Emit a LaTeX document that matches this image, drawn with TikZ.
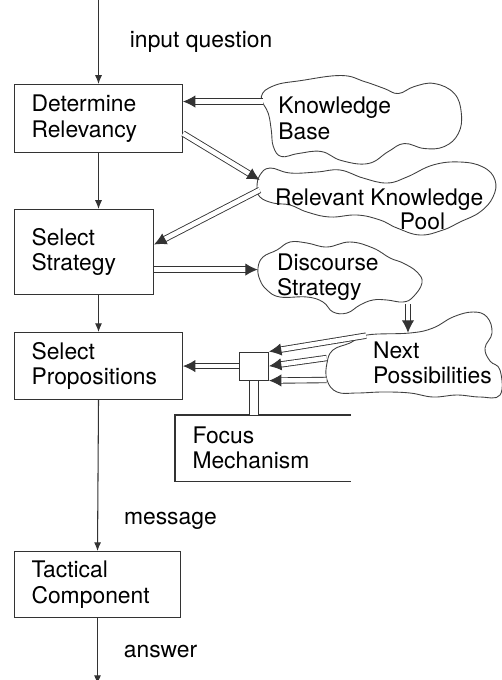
\documentclass[tikz,border=0pt]{standalone}
\usepackage{fontspec}
\setmainfont{TeX Gyre Heros}
\usetikzlibrary{positioning,arrows.meta,shapes.geometric}

\begin{document}
\begin{tikzpicture}[x=0.02cm,y=-0.02cm,
        font=\fontsize{13}{14.5}\selectfont,
        proc/.style={draw=black!80,line width=0.6pt,anchor=north west,align=left,inner xsep=0.34cm,inner ysep=0pt},
        wolke/.style={ellipse,inner sep=0pt},
        rand/.style={draw=black!75,line width=0.5pt},
        wtext/.style={align=left,inner sep=0pt},
        flow/.style={draw=black!80,line width=0.6pt,-{Latex[length=5pt,width=4pt]}},
        dbl/.style={draw=black!80,line width=0.5pt,double,double distance=2.6pt,-{Latex[length=7pt,width=7pt]}}]
        \useasboundingbox (0,0) rectangle (502,680);
        % main chain
        \node[proc, text width=2.68cm, minimum height=1.36cm] (rel) at (14,84) {Determine\\Relevancy};
        \node[proc, text width=2.10cm, minimum height=1.70cm, below=1.12cm of rel.south west, anchor=north west] (strat) {Select\\Strategy};
        \node[proc, text width=2.68cm, minimum height=1.34cm, below=0.74cm of strat.south west, anchor=north west] (props) {Select\\Propositions};
        \node[proc, text width=2.64cm, minimum height=1.32cm, below=3.02cm of props.south west, anchor=north west] (tact) {Tactical\\Component};
        \node[draw=black!80, line width=0.6pt, minimum width=0.58cm, minimum height=0.56cm, inner sep=0pt, right=1.12cm of props] (sel) {};
        \node[proc, draw=none, text width=2.82cm, minimum height=1.3cm] (focus) at (175,415) {Focus\\Mechanism};
        \draw[draw=black!80, line width=0.6pt] (focus.north east) -- (focus.north west) -- (focus.south west) -- (focus.south east);
        % clouds
        \node[wolke, minimum width=4cm, minimum height=1.6cm, right=1.6cm of rel] (kb) {};
        \node[wolke, minimum width=4.68cm, minimum height=1.2cm] (pool) at (377,198) {};
        \node[wolke, minimum width=3.16cm, minimum height=1.4cm] (disc) at (337,277) {};
        \node[wolke, minimum width=3.52cm, minimum height=1.28cm] (next) at (415,363) {};
        \draw[rand, shift={(kb.center)}] plot[smooth cycle, tension=0.7] coordinates {(-102,-22) (-89,-33) (-62,-38) (-22,-43) (1,-37) (21,-30) (35,-25) (51,-32) (71,-35) (91,-25) (98,-5) (95,15) (81,28) (61,30) (41,25) (25,33) (5,45) (-22,42) (-42,33) (-65,35) (-82,38) (-90,28) (-92,12) (-95,-5)};
        \draw[rand, shift={(pool.center)}] plot[smooth cycle, tension=0.7] coordinates {(-117,-23) (-107,-30) (-87,-25) (-60,-26) (-37,-28) (-14,-20) (10,-15) (30,-21) (56,-33) (83,-36) (106,-31) (118,-18) (116,-1) (103,14) (83,24) (66,32) (43,37) (20,30) (3,22) (-20,17) (-47,19) (-70,14) (-87,7) (-104,5) (-117,-1) (-120,-11)};
        \draw[rand, shift={(disc.center)}] plot[smooth cycle, tension=0.7] coordinates {(-79,-9) (-74,-20) (-60,-27) (-47,-35) (-30,-34) (-10,-30) (13,-35) (36,-29) (53,-19) (66,-14) (80,-5) (85,6) (76,20) (66,25) (50,23) (36,23) (23,28) (10,36) (-4,35) (-14,25) (-30,20) (-57,20) (-70,13) (-77,3)};
        \draw[rand, shift={(next.center)}] plot[smooth cycle, tension=0.7] coordinates {(-48,-28) (-5,-30) (18,-35) (38,-46) (58,-51) (72,-46) (77,-30) (70,-15) (75,-2) (85,7) (85,32) (65,34) (42,32) (18,34) (-5,30) (-32,29) (-58,30) (-78,29) (-88,17) (-88,0) (-82,-13) (-65,-20)};
        \node[wtext, right=0.3cm of kb.west] (kbtext) {Knowledge\\Base};
        \node[wtext, right=0.3cm of pool.west, yshift=-0.22cm] (pooltext) {Relevant Knowledge\\[-1pt]\hspace*{2.5cm}Pool};
        \node[wtext, right=0.38cm of disc.west] (disctext) {Discourse\\Strategy};
        \node[wtext, right=0.92cm of next.west] (nexttext) {Next\\Possibilities};
        % single arrows
        \coordinate (start) at ([yshift=1.68cm]rel.north);
        \coordinate (end) at ([yshift=-1.32cm]tact.south);
        \draw[flow] (start) -- node[right=0.5cm] {input question} (rel.north);
        \draw[flow] (rel.south) -- (rel.south |- strat.north);
        \draw[flow] (props.north |- strat.south) -- (props.north);
        \draw[flow] (props.south) -- node[pos=0.8, right=0.4cm] {message} (tact.north);
        \draw[flow] (tact.south) -- node[right=0.4cm] {answer} (end);
        % double arrows
        \draw[dbl] ([yshift=0.34cm]kb.west) -- ([yshift=0.34cm]kb.west -| rel.east);
        \draw[dbl] ([yshift=-0.3cm]rel.east) -- ([yshift=0.36cm]pool.west);
        \draw[dbl] ([yshift=0.16cm]pool.west) -- ([yshift=0.15cm]strat.east);
        \draw[dbl] ([yshift=-0.35cm]strat.east) -- ([yshift=-0.35cm]strat.east -| disc.west);
        \draw[dbl] ([xshift=1.42cm,yshift=0.16cm]disc.south) -- ([xshift=1.42cm,yshift=-0.04cm]disc.south |- next.north);
        \draw[dbl] ([xshift=-0.98cm,yshift=-0.1cm]next.north) -- (sel.north east);
        \draw[dbl] ([yshift=0.1cm]next.west) -- (sel.east);
        \draw[dbl] ([yshift=-0.34cm]next.west) -- (sel.south east);
        \draw[dbl] (sel.west) -- (props.east);
        \draw[draw=black!80, line width=0.5pt, double, double distance=0.17cm] (sel.south) -- (sel.south |- focus.north);
\end{tikzpicture}
\end{document}
